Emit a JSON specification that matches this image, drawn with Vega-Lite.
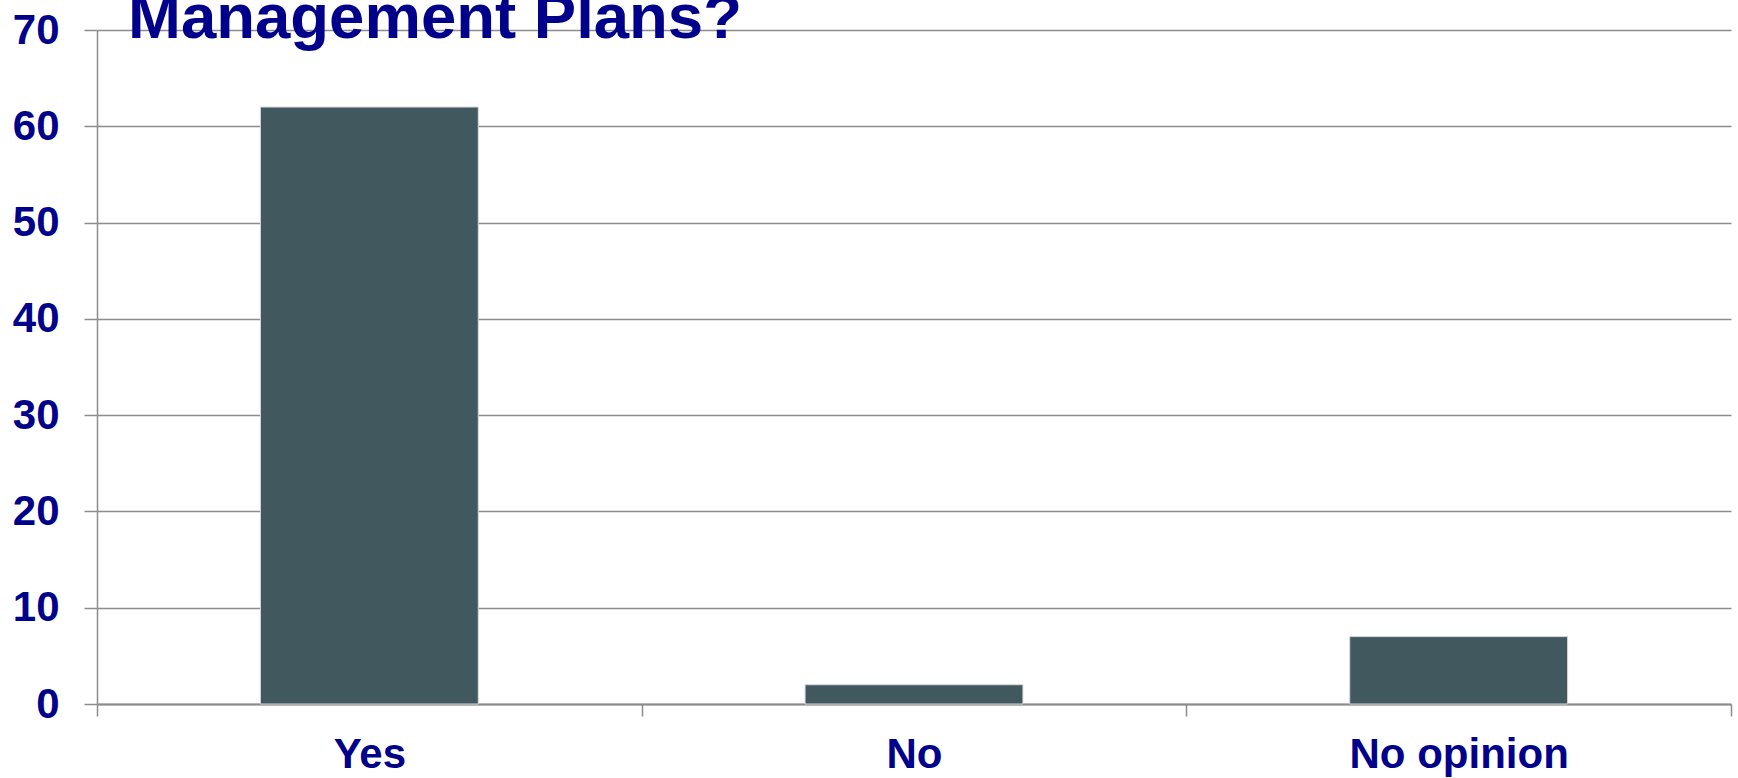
{
  "$schema": "https://vega.github.io/schema/vega-lite/v6.json",
  "autosize": "none",
  "width": 1634,
  "height": 674,
  "padding": {"left": 97, "top": 30, "right": 7, "bottom": 74},
  "background": "white",
  "title": {
    "text": "Management Plans?",
    "anchor": "start",
    "frame": "group",
    "orient": "top",
    "baseline": "alphabetic",
    "offset": -92,
    "dx": 31,
    "font": "Liberation Sans",
    "fontSize": 63.5,
    "fontWeight": "bold",
    "color": "#00008B"
  },
  "data": {
    "values": [
      {"answer": "Yes", "count": 62},
      {"answer": "No", "count": 2},
      {"answer": "No opinion", "count": 7}
    ]
  },
  "mark": {"type": "bar", "color": "#41595E", "stroke": "#d8d8d8", "strokeWidth": 1, "width": {"band": 0.4}},
  "encoding": {
    "x": {
      "field": "answer",
      "type": "nominal",
      "sort": ["Yes", "No", "No opinion"],
      "title": null,
      "scale": {"paddingInner": 0, "paddingOuter": 0},
      "axis": {
        "labelAngle": 0,
        "labelFont": "Liberation Sans",
        "labelFontSize": 42,
        "labelFontWeight": "bold",
        "labelColor": "#00008B",
        "labelBaseline": "alphabetic",
        "labelPadding": 51,
        "labelLimit": 0,
        "tickBand": "extent",
        "tickSize": 12,
        "tickColor": "#8c8c8c",
        "tickWidth": 1.5,
        "domainColor": "#8c8c8c",
        "domainWidth": 2,
        "grid": false
      }
    },
    "y": {
      "field": "count",
      "type": "quantitative",
      "title": null,
      "scale": {"domain": [0, 70]},
      "axis": {
        "values": [0, 10, 20, 30, 40, 50, 60, 70],
        "labelFont": "Liberation Sans",
        "labelFontSize": 42,
        "labelFontWeight": "bold",
        "labelColor": "#00008B",
        "labelPadding": 25,
        "tickSize": 13,
        "tickColor": "#8c8c8c",
        "tickWidth": 1.5,
        "domainColor": "#8c8c8c",
        "domainWidth": 1.5,
        "grid": true,
        "gridColor": "#8c8c8c",
        "gridWidth": 1.5
      }
    }
  },
  "config": {"view": {"stroke": null}}
}
